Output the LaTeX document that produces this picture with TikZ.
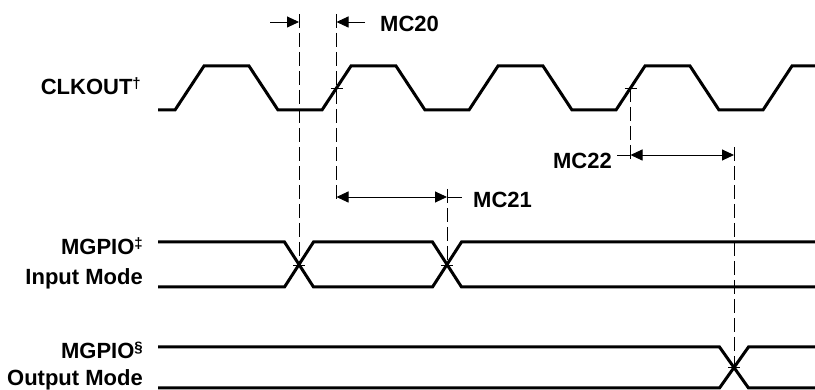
\documentclass[tikz,border=0pt]{standalone}
\usepackage{fontspec}
\setmainfont{Liberation Sans}
\usetikzlibrary{arrows.meta,positioning}

\newcommand{\supmark}[1]{\raisebox{0.55ex}{\fontsize{15}{15}\selectfont #1}}

\begin{document}
\begin{tikzpicture}[
    x=1pt, y=-1pt,
    sig/.style={line width=3pt, line join=miter},
    guide/.style={line width=1pt, dash pattern=on 14pt off 5pt},
    dim/.style={line width=0.9pt, -{Triangle[length=12pt,width=11pt]}},
    dimboth/.style={line width=0.9pt, {Triangle[length=12pt,width=11pt]}-{Triangle[length=12pt,width=11pt]}},
    lbl/.style={font=\bfseries\fontsize{22}{26}\selectfont, inner sep=0pt},
    tickmark/.style={line width=0.9pt}
  ]
    \useasboundingbox (0,0) rectangle (815,390);

    % signal names
    \node[lbl, anchor=base east] (clk) at (141,95) {CLKOUT\supmark{†}};
    \node[lbl, anchor=base east] (inname) at (143,255) {MGPIO\supmark{‡}};
    \node[lbl, anchor=base east] (inmode) at (143,285) {Input Mode};
    \node[lbl, anchor=base east] (outname) at (143,359) {MGPIO\supmark{§}};
    \node[lbl, anchor=base east] (outmode) at (143,385) {Output Mode};

    % CLKOUT waveform
    \draw[sig] (158,110) -- (175,110)
      \foreach \p in {1,...,4} { -- ++(29,-44) -- ++(45,0) -- ++(29,44) -- ++(44,0) }
      -- ++(29,-44) -- (815,66);

    % MGPIO input mode
    \draw[sig] (158,242) -- (284.5,242) -- (313.5,287) -- (432.5,287) -- (461.5,242) -- (815,242);
    \draw[sig] (158,287) -- (284.5,287) -- (313.5,242) -- (432.5,242) -- (461.5,287) -- (815,287);

    % MGPIO output mode
    \draw[sig] (158,347) -- (719.5,347) -- (748.5,388) -- (815,388);
    \draw[sig] (158,388) -- (719.5,388) -- (748.5,347) -- (815,347);

    % reference points
    \coordinate (fall1) at (299,265);
    \coordinate (rise2) at (336.5,88);
    \coordinate (fall2) at (447,265);
    \coordinate (rise4) at (630.5,88);
    \coordinate (outx)  at (734,367.5);

    \coordinate (g1top) at (299,14);
    \coordinate (g2top) at (336.5,14);
    \coordinate (g2bot) at (336.5,204);
    \coordinate (g3top) at (447,189);
    \coordinate (g4bot) at (630.5,162);
    \coordinate (g5top) at (734,147);

    % guide lines
    \draw[guide] (g1top) -- (fall1);
    \draw[guide] (g2top) -- (g2bot);
    \draw[guide] (g3top) -- (fall2);
    \draw[guide] (rise4) -- (g4bot);
    \draw[guide] (g5top) -- (outx);

    % crossing ticks
    \foreach \c in {fall1,rise2,fall2,rise4,outx}
      \draw[tickmark] ([xshift=-6pt]\c) -- ([xshift=6pt]\c);

    % MC20
    \coordinate (a20l) at (270,22);
    \coordinate (a20r) at (365,22);
    \draw[dim] (a20l) -- (g1top |- a20l);
    \draw[dim] (a20r) -- (g2top |- a20r);
    \node[lbl, anchor=base west] (mc20) at (380,32) {MC20};

    % MC21
    \coordinate (a21) at (462,197);
    \draw[dimboth] (g2top |- a21) -- (g3top |- a21);
    \draw[line width=0.9pt] (g3top |- a21) -- (a21);
    \node[lbl, anchor=base west] (mc21) at (473,208) {MC21};

    % MC22
    \coordinate (a22) at (617,155);
    \draw[dimboth] (rise4 |- a22) -- (g5top |- a22);
    \draw[line width=0.9pt] (a22) -- (rise4 |- a22);
    \node[lbl, anchor=base east] (mc22) at (612,169) {MC22};
\end{tikzpicture}
\end{document}
